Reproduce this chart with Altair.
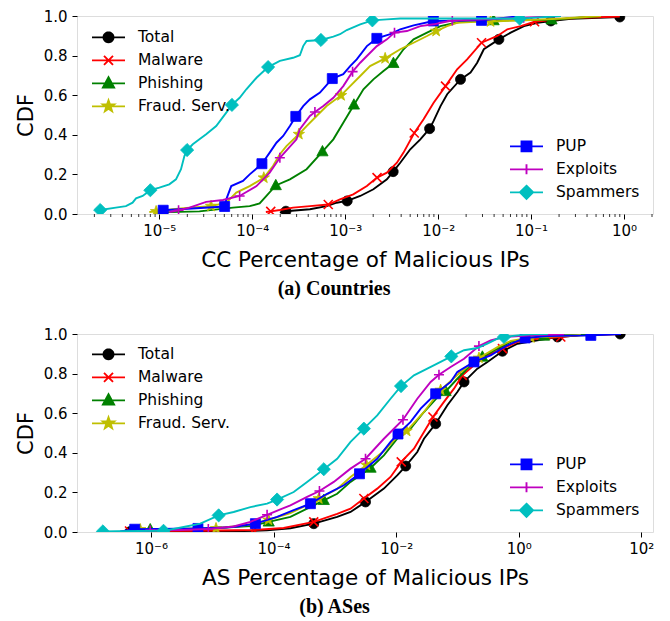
import math
import re
import altair as alt
import pandas as pd

# ---------------- series meta ----------------
SERIES = ["Total", "Malware", "Phishing", "Fraud. Serv.", "PUP", "Exploits", "Spammers"]
COLORS = ["#000000", "#ff0000", "#008000", "#bfbf00", "#0000ff", "#bf00bf", "#00bfbf"]
LEFT_GROUP = SERIES[:4]
RIGHT_GROUP = SERIES[4:]

Y_TICKS = [0.0, 0.2, 0.4, 0.6, 0.8, 1.0]
A_X_TICKS = [1e-5, 1e-4, 1e-3, 1e-2, 1e-1, 1e0]
B_X_TICKS = [1e-6, 1e-4, 1e-2, 1e0, 1e2]
A_X_DOMAIN = [1.3e-6, 2.05]
B_X_DOMAIN = [6.2e-8, 155.0]

# ---------------- panel (a): Countries ----------------
A_TOTAL_X = [1.98e-4, 2.30e-4, 4.17e-4, 6.31e-4, 8.09e-4, 1.05e-3, 1.45e-3, 2.01e-3, 2.81e-3, 3.28e-3, 3.91e-3, 5.01e-3, 6.43e-3, 8.09e-3, 8.94e-3, 1.06e-2, 1.25e-2, 1.74e-2, 2.23e-2, 2.63e-2, 3.10e-2, 4.50e-2, 6.03e-2, 8.38e-2, 0.117, 0.163, 0.268, 0.90]
A_TOTAL_Y = [0.007, 0.014, 0.024, 0.040, 0.057, 0.066, 0.091, 0.125, 0.175, 0.214, 0.259, 0.327, 0.377, 0.431, 0.470, 0.545, 0.605, 0.680, 0.714, 0.764, 0.832, 0.882, 0.916, 0.949, 0.966, 0.975, 0.986, 0.995]
A_TOTAL_MX = [2.30e-4, 1.05e-3, 3.28e-3, 8.09e-3, 1.74e-2, 4.50e-2, 0.163, 0.90]
A_TOTAL_MY = [0.014, 0.066, 0.214, 0.431, 0.680, 0.882, 0.975, 0.995]

A_MAL_X = [1.40e-4, 1.58e-4, 1.98e-4, 2.75e-4, 4.17e-4, 6.57e-4, 8.79e-4, 1.22e-3, 1.71e-3, 2.20e-3, 2.81e-3, 3.60e-3, 4.24e-3, 5.53e-3, 6.97e-3, 8.94e-3, 1.20e-2, 1.60e-2, 2.05e-2, 2.93e-2, 4.33e-2, 5.55e-2, 7.73e-2, 0.109, 0.192, 0.343, 0.90]
A_MAL_Y = [0.010, 0.013, 0.020, 0.032, 0.040, 0.048, 0.074, 0.099, 0.141, 0.184, 0.209, 0.259, 0.310, 0.409, 0.478, 0.562, 0.646, 0.731, 0.781, 0.865, 0.899, 0.933, 0.949, 0.971, 0.983, 0.991, 0.997]
A_MAL_MX = [1.58e-4, 6.57e-4, 2.20e-3, 5.53e-3, 1.20e-2, 2.93e-2, 0.109]
A_MAL_MY = [0.013, 0.048, 0.184, 0.409, 0.646, 0.865, 0.971]

A_PHI_X = [1.0e-5, 2.70e-5, 6.19e-5, 9.38e-5, 1.20e-4, 1.42e-4, 1.79e-4, 2.54e-4, 3.84e-4, 5.69e-4, 7.45e-4, 9.53e-4, 1.24e-3, 1.57e-3, 2.01e-3, 2.58e-3, 3.30e-3, 4.24e-3, 5.44e-3, 7.59e-3, 1.06e-2, 1.88e-2, 3.95e-2, 0.166, 0.565]
A_PHI_Y = [0.008, 0.013, 0.032, 0.040, 0.053, 0.091, 0.144, 0.175, 0.226, 0.315, 0.377, 0.461, 0.551, 0.630, 0.680, 0.722, 0.761, 0.832, 0.882, 0.916, 0.949, 0.975, 0.977, 0.981, 1.0]
A_PHI_MX = [1.79e-4, 5.69e-4, 1.24e-3, 3.30e-3, 3.95e-2, 0.166]
A_PHI_MY = [0.144, 0.315, 0.551, 0.761, 0.977, 0.981]

A_FRA_X = [7.80e-6, 9.23e-6, 1.39e-5, 2.11e-5, 3.60e-5, 5.25e-5, 6.73e-5, 9.38e-5, 1.33e-4, 1.67e-4, 1.98e-4, 2.33e-4, 3.17e-4, 3.84e-4, 4.92e-4, 6.31e-4, 9.02e-4, 1.13e-3, 1.45e-3, 1.85e-3, 2.69e-3, 3.91e-3, 5.44e-3, 7.59e-3, 9.51e-3, 1.25e-2, 1.60e-2, 2.23e-2, 3.66e-2, 0.099, 0.192, 0.565]
A_FRA_Y = [0.010, 0.013, 0.024, 0.032, 0.040, 0.057, 0.108, 0.141, 0.183, 0.242, 0.302, 0.343, 0.403, 0.444, 0.495, 0.545, 0.599, 0.646, 0.697, 0.747, 0.786, 0.832, 0.865, 0.899, 0.924, 0.949, 0.966, 0.970, 0.972, 0.980, 0.986, 1.0]
A_FRA_MX = [9.23e-6, 3.60e-5, 1.33e-4, 3.17e-4, 9.02e-4, 2.69e-3, 9.51e-3, 3.66e-2]
A_FRA_MY = [0.013, 0.040, 0.183, 0.403, 0.599, 0.786, 0.924, 0.972]

A_PUP_X = [1.10e-5, 5.04e-5, 5.25e-5, 5.94e-5, 7.94e-5, 9.38e-5, 1.27e-4, 1.54e-4, 1.82e-4, 2.15e-4, 2.54e-4, 2.94e-4, 3.53e-4, 4.17e-4, 5.35e-4, 7.26e-4, 9.53e-4, 1.13e-3, 1.33e-3, 1.71e-3, 2.19e-3, 3.05e-3, 3.91e-3, 5.44e-3, 8.87e-3, 2.93e-2, 7.73e-2]
A_PUP_Y = [0.019, 0.038, 0.074, 0.141, 0.167, 0.200, 0.254, 0.310, 0.360, 0.394, 0.444, 0.493, 0.545, 0.579, 0.613, 0.684, 0.706, 0.747, 0.781, 0.848, 0.887, 0.908, 0.933, 0.953, 0.975, 0.978, 1.0]
A_PUP_MX = [1.10e-5, 5.04e-5, 1.27e-4, 2.94e-4, 7.26e-4, 2.19e-3, 8.87e-3, 2.93e-2]
A_PUP_MY = [0.019, 0.038, 0.254, 0.493, 0.684, 0.887, 0.975, 0.978]

A_EXP_X = [1.28e-5, 1.61e-5, 2.11e-5, 3.19e-5, 4.83e-5, 7.31e-5, 1.11e-4, 1.54e-4, 1.98e-4, 2.99e-4, 3.25e-4, 4.17e-4, 4.72e-4, 5.81e-4, 7.45e-4, 9.53e-4, 1.20e-3, 1.45e-3, 1.71e-3, 2.19e-3, 2.81e-3, 3.39e-3, 4.61e-3, 6.43e-3, 8.94e-3, 1.25e-2, 1.42e-2, 8.32e-2, 0.209]
A_EXP_Y = [0.010, 0.019, 0.032, 0.061, 0.071, 0.091, 0.141, 0.209, 0.284, 0.377, 0.428, 0.495, 0.515, 0.545, 0.587, 0.646, 0.719, 0.764, 0.798, 0.848, 0.882, 0.916, 0.924, 0.949, 0.958, 0.972, 0.977, 0.991, 1.0]
A_EXP_MX = [1.61e-5, 7.31e-5, 1.98e-4, 4.72e-4, 1.20e-3, 3.39e-3, 1.42e-2, 8.32e-2]
A_EXP_MY = [0.019, 0.091, 0.284, 0.515, 0.719, 0.916, 0.977, 0.991]

A_SPA_X = [2.31e-6, 3.40e-6, 4.37e-6, 5.15e-6, 5.61e-6, 6.61e-6, 8.0e-6, 1.0e-5, 1.28e-5, 1.51e-5, 1.71e-5, 1.86e-5, 1.99e-5, 2.29e-5, 2.70e-5, 3.19e-5, 4.09e-5, 5.25e-5, 6.04e-5, 7.31e-5, 8.63e-5, 1.11e-4, 1.48e-4, 1.98e-4, 2.75e-4, 3.25e-4, 3.53e-4, 3.84e-4, 5.48e-4, 7.45e-4, 8.79e-4, 1.04e-3, 1.45e-3, 1.96e-3, 2.81e-3, 3.91e-3, 7.53e-2, 0.209]
A_SPA_Y = [0.020, 0.032, 0.040, 0.057, 0.079, 0.091, 0.120, 0.133, 0.150, 0.175, 0.226, 0.293, 0.323, 0.352, 0.377, 0.403, 0.444, 0.512, 0.551, 0.587, 0.630, 0.688, 0.742, 0.773, 0.789, 0.802, 0.848, 0.874, 0.879, 0.896, 0.908, 0.929, 0.958, 0.978, 0.983, 0.987, 0.987, 1.0]
A_SPA_MX = [2.31e-6, 8.0e-6, 1.99e-5, 6.04e-5, 1.48e-4, 5.48e-4, 1.96e-3, 7.53e-2]
A_SPA_MY = [0.020, 0.120, 0.323, 0.551, 0.742, 0.879, 0.978, 0.987]

# ---------------- panel (b): ASes ----------------
B_TOTAL_X = [4.57e-7, 1.97e-5, 7.83e-5, 1.88e-4, 4.52e-4, 1.09e-3, 1.80e-3, 3.16e-3, 6.30e-3, 1.04e-2, 1.43e-2, 2.21e-2, 2.84e-2, 4.41e-2, 6.84e-2, 9.95e-2, 0.128, 0.211, 0.308, 0.542, 0.953, 2.02, 4.29, 10.3, 45.2]
B_TOTAL_Y = [0.002, 0.003, 0.008, 0.019, 0.042, 0.076, 0.101, 0.152, 0.219, 0.286, 0.333, 0.404, 0.471, 0.547, 0.640, 0.707, 0.758, 0.825, 0.859, 0.913, 0.951, 0.968, 0.985, 0.993, 1.0]
B_TOTAL_MX = [4.57e-7, 4.52e-4, 3.16e-3, 1.43e-2, 4.41e-2, 0.128, 0.542, 4.29, 45.2]
B_TOTAL_MY = [0.002, 0.042, 0.152, 0.333, 0.547, 0.758, 0.913, 0.985, 1.0]

B_MAL_X = [4.46e-7, 6.37e-6, 4.73e-5, 1.46e-4, 4.52e-4, 1.09e-3, 1.80e-3, 2.97e-3, 4.91e-3, 8.09e-3, 1.21e-2, 1.95e-2, 2.84e-2, 3.98e-2, 6.02e-2, 8.77e-2, 0.120, 0.186, 0.308, 0.542, 0.953, 2.02, 4.85, 10.3, 46.4]
B_MAL_Y = [0.005, 0.006, 0.010, 0.020, 0.051, 0.092, 0.118, 0.169, 0.219, 0.278, 0.354, 0.421, 0.505, 0.581, 0.657, 0.724, 0.791, 0.842, 0.892, 0.926, 0.960, 0.976, 0.985, 0.996, 1.0]
B_MAL_MX = [4.46e-7, 4.73e-5, 4.52e-4, 2.97e-3, 1.21e-2, 3.98e-2, 0.120, 0.542, 4.85]
B_MAL_MY = [0.005, 0.010, 0.051, 0.169, 0.354, 0.581, 0.791, 0.926, 0.985]

B_PHI_X = [9.70e-7, 1.19e-5, 4.18e-5, 8.32e-5, 1.88e-4, 3.52e-4, 6.59e-4, 1.09e-3, 1.80e-3, 3.82e-3, 6.30e-3, 1.04e-2, 1.72e-2, 2.84e-2, 4.70e-2, 6.41e-2, 9.95e-2, 0.164, 0.255, 0.449, 0.740, 1.57, 2.59, 21.9]
B_PHI_Y = [0.012, 0.020, 0.030, 0.051, 0.076, 0.118, 0.160, 0.193, 0.253, 0.323, 0.387, 0.471, 0.522, 0.606, 0.680, 0.710, 0.774, 0.842, 0.884, 0.926, 0.960, 0.980, 0.990, 1.0]
B_PHI_MX = [9.70e-7, 8.32e-5, 6.59e-4, 3.82e-3, 6.41e-2, 0.255, 2.59]
B_PHI_MY = [0.012, 0.051, 0.160, 0.323, 0.710, 0.884, 0.990]

B_FRA_X = [3.8e-7, 6.67e-7, 1.15e-5, 4.18e-5, 8.22e-5, 1.88e-4, 3.52e-4, 5.46e-4, 1.09e-3, 1.80e-3, 3.28e-3, 6.30e-3, 1.04e-2, 1.48e-2, 2.84e-2, 5.31e-2, 9.95e-2, 0.164, 0.224, 0.449, 0.740, 1.57, 10.3]
B_FRA_Y = [0.003, 0.013, 0.018, 0.038, 0.061, 0.096, 0.136, 0.169, 0.217, 0.278, 0.338, 0.409, 0.480, 0.510, 0.606, 0.717, 0.793, 0.848, 0.879, 0.934, 0.965, 0.982, 0.995]
B_FRA_MX = [6.67e-7, 1.15e-5, 8.22e-5, 5.46e-4, 3.28e-3, 1.48e-2, 5.31e-2, 0.224, 1.57]
B_FRA_MY = [0.013, 0.018, 0.061, 0.169, 0.338, 0.510, 0.717, 0.879, 0.982]

B_PUP_X = [3.14e-7, 5.42e-7, 5.83e-6, 1.63e-5, 2.53e-5, 5.05e-5, 1.14e-4, 2.13e-4, 3.99e-4, 7.48e-4, 1.40e-3, 2.52e-3, 4.91e-3, 8.09e-3, 1.07e-2, 1.72e-2, 2.51e-2, 4.41e-2, 7.74e-2, 9.95e-2, 0.186, 0.348, 0.653, 1.27, 2.94, 15.0, 46.4]
B_PUP_Y = [0.003, 0.014, 0.018, 0.023, 0.028, 0.042, 0.076, 0.110, 0.143, 0.193, 0.236, 0.294, 0.370, 0.455, 0.495, 0.556, 0.623, 0.698, 0.758, 0.808, 0.859, 0.892, 0.943, 0.980, 0.990, 0.993, 1.0]
B_PUP_MX = [5.42e-7, 5.83e-6, 5.05e-5, 3.99e-4, 2.52e-3, 1.07e-2, 4.41e-2, 0.186, 1.27, 15.0]
B_PUP_MY = [0.014, 0.018, 0.042, 0.143, 0.294, 0.495, 0.698, 0.859, 0.980, 0.993]

B_EXP_X = [6.67e-7, 9.70e-7, 3.0e-6, 8.61e-6, 2.23e-5, 4.18e-5, 7.83e-5, 1.88e-4, 3.52e-4, 5.60e-4, 9.59e-4, 1.80e-3, 3.16e-3, 6.30e-3, 1.29e-2, 2.21e-2, 3.65e-2, 4.99e-2, 7.74e-2, 0.128, 0.224, 0.348, 0.575, 1.57, 5.50]
B_EXP_Y = [0.002, 0.008, 0.010, 0.015, 0.028, 0.051, 0.087, 0.135, 0.177, 0.207, 0.253, 0.320, 0.370, 0.471, 0.567, 0.673, 0.758, 0.794, 0.833, 0.875, 0.939, 0.968, 0.985, 0.993, 0.998]
B_EXP_MX = [9.70e-7, 8.61e-6, 7.83e-5, 5.60e-4, 3.16e-3, 1.29e-2, 4.99e-2, 0.224]
B_EXP_MY = [0.008, 0.015, 0.087, 0.207, 0.370, 0.567, 0.794, 0.939]

B_SPA_X = [1.64e-7, 2.77e-7, 1.60e-6, 3.40e-6, 6.37e-6, 1.27e-5, 2.23e-5, 4.18e-5, 7.83e-5, 1.14e-4, 2.13e-4, 3.52e-4, 6.59e-4, 1.09e-3, 1.80e-3, 2.97e-3, 4.91e-3, 8.09e-3, 1.20e-2, 1.95e-2, 3.22e-2, 5.31e-2, 7.94e-2, 0.128, 0.211, 0.308, 0.449, 0.575, 0.953, 1.57, 3.0]
B_SPA_Y = [0.003, 0.004, 0.006, 0.025, 0.042, 0.084, 0.101, 0.126, 0.143, 0.164, 0.202, 0.253, 0.317, 0.370, 0.455, 0.522, 0.589, 0.673, 0.737, 0.791, 0.825, 0.859, 0.887, 0.918, 0.929, 0.951, 0.976, 0.985, 0.993, 0.998, 1.0]
B_SPA_MX = [1.64e-7, 1.60e-6, 1.27e-5, 1.14e-4, 6.59e-4, 2.97e-3, 1.20e-2, 7.94e-2, 0.575]
B_SPA_MY = [0.003, 0.006, 0.084, 0.164, 0.317, 0.522, 0.737, 0.887, 0.985]

PANEL_A = {
    "Total": (A_TOTAL_X, A_TOTAL_Y, A_TOTAL_MX, A_TOTAL_MY),
    "Malware": (A_MAL_X, A_MAL_Y, A_MAL_MX, A_MAL_MY),
    "Phishing": (A_PHI_X, A_PHI_Y, A_PHI_MX, A_PHI_MY),
    "Fraud. Serv.": (A_FRA_X, A_FRA_Y, A_FRA_MX, A_FRA_MY),
    "PUP": (A_PUP_X, A_PUP_Y, A_PUP_MX, A_PUP_MY),
    "Exploits": (A_EXP_X, A_EXP_Y, A_EXP_MX, A_EXP_MY),
    "Spammers": (A_SPA_X, A_SPA_Y, A_SPA_MX, A_SPA_MY),
}
PANEL_B = {
    "Total": (B_TOTAL_X, B_TOTAL_Y, B_TOTAL_MX, B_TOTAL_MY),
    "Malware": (B_MAL_X, B_MAL_Y, B_MAL_MX, B_MAL_MY),
    "Phishing": (B_PHI_X, B_PHI_Y, B_PHI_MX, B_PHI_MY),
    "Fraud. Serv.": (B_FRA_X, B_FRA_Y, B_FRA_MX, B_FRA_MY),
    "PUP": (B_PUP_X, B_PUP_Y, B_PUP_MX, B_PUP_MY),
    "Exploits": (B_EXP_X, B_EXP_Y, B_EXP_MX, B_EXP_MY),
    "Spammers": (B_SPA_X, B_SPA_Y, B_SPA_MX, B_SPA_MY),
}

# ---------------- marker geometry (styles) ----------------
def poly(pts):
    return "M" + "L".join(f"{x:.3f},{y:.3f}" for x, y in pts) + "Z"

CIRCLE = poly([(math.cos(2 * math.pi * k / 24), math.sin(2 * math.pi * k / 24)) for k in range(24)])
SQUARE = "M-1,-1L1,-1L1,1L-1,1Z"
TRIANGLE = "M0,-1.1L1,0.75L-1,0.75Z"
DIAMOND = "M0,-1L1,0L0,1L-1,0Z"
STAR = poly([((1.0 if k % 2 == 0 else 0.4) * math.cos(-math.pi / 2 + k * math.pi / 5),
              (1.0 if k % 2 == 0 else 0.4) * math.sin(-math.pi / 2 + k * math.pi / 5)) for k in range(10)])
XMARK = "M-1,-1L1,1M-1,1L1,-1"
PLUS = "M-1,0L1,0M0,-1L0,1"

# shape, marker half-size (px), filled
MARKERS = {
    "Total": (CIRCLE, 5.0, True),
    "Malware": (XMARK, 4.5, False),
    "Phishing": (TRIANGLE, 5.6, True),
    "Fraud. Serv.": (STAR, 6.0, True),
    "PUP": (SQUARE, 5.0, True),
    "Exploits": (PLUS, 5.0, False),
    "Spammers": (DIAMOND, 6.6, True),
}
COLOR_OF = dict(zip(SERIES, COLORS))

LEG_HALF = 16.5  # half length of legend line (px)


def scale_path(path, k):
    return re.sub(r"-?\d+(?:\.\d+)?", lambda m: f"{float(m.group()) * k:.3f}", path)


def legend_path(name):
    shape, half, _ = MARKERS[name]
    return "M-1,0L1,0" + scale_path(shape, half / LEG_HALF)


SUP = "''+round(log(datum.value)/LN10)"
for a, b in [("-", "⁻"), ("0", "⁰"), ("1", "¹"), ("2", "²"), ("3", "³"), ("4", "⁴"),
             ("5", "⁵"), ("6", "⁶"), ("7", "⁷")]:
    SUP = f"replace({SUP},'{a}','{b}')"
LABEL_EXPR = "'10' + " + SUP

W, H = 576, 198
FONT = "DejaVu Sans"


def panel(data, xdomain, xticks, minor, xtitle, caption, legA, legB):
    xs = alt.Scale(type="log", domain=xdomain, nice=False)
    ys = alt.Scale(domain=[0, 1], nice=False, zero=False)
    xaxis = alt.Axis(values=xticks, labelExpr=LABEL_EXPR, grid=False, domain=False,
                     tickSize=5, tickColor="black", labelColor="black", labelFontSize=15,
                     labelFont=FONT, titleFont=FONT, titleFontSize=21.5, titleFontWeight="normal",
                     titleColor="black", titlePadding=11, labelPadding=4, labelFlush=False)
    yaxis = alt.Axis(values=Y_TICKS, format=".1f", grid=False, domain=False,
                     tickSize=5, tickColor="black", labelColor="black", labelFontSize=15,
                     labelFont=FONT, titleFont=FONT, titleFontSize=21, titleFontWeight="normal",
                     titleColor="black", titlePadding=7, labelPadding=5)
    X = lambda f: alt.X(f, scale=xs, axis=xaxis, title=xtitle)
    Y = lambda f: alt.Y(f, scale=ys, axis=yaxis, title="CDF")

    layers = []
    for name in SERIES:
        lx, ly, mx, my = data[name]
        c = COLOR_OF[name]
        ldf = pd.DataFrame({"x": lx, "y": ly})
        mdf = pd.DataFrame({"x": mx, "y": my})
        layers.append(alt.Chart(ldf).mark_line(color=c, strokeWidth=1.9, clip=True)
                      .encode(x=X("x:Q"), y=Y("y:Q")))
        shape, half, filled = MARKERS[name]
        size = (2 * half) ** 2
        if filled:
            pm = alt.Chart(mdf).mark_point(shape=shape, size=size, filled=True, fill=c, stroke=c,
                                           strokeWidth=0.8, opacity=1, clip=True)
        else:
            pm = alt.Chart(mdf).mark_point(shape=shape, size=size, filled=False, stroke=c,
                                           strokeWidth=1.6, opacity=1, clip=True)
        layers.append(pm.encode(x=X("x:Q"), y=Y("y:Q")))

    if minor:
        mt = pd.DataFrame({"m": minor})
        layers.append(alt.Chart(mt).mark_rule(color="black", strokeWidth=0.8)
                      .encode(x=X("m:Q"), y=alt.value(H), y2=alt.value(H + 3)))

    for group, (lx, ly) in ((LEFT_GROUP, legA), (RIGHT_GROUP, legB)):
        gcols = [COLOR_OF[n] for n in group]
        gpaths = [legend_path(n) for n in group]
        leg = alt.Legend(title=None, orient="none", legendX=lx, legendY=ly, padding=0,
                         clipHeight=22.7, rowPadding=0, labelOffset=12, labelFontSize=15.5,
                         labelFont=FONT, labelColor="black", symbolSize=1089,
                         symbolStrokeWidth=1.9, labelLimit=300)
        ld = pd.DataFrame({"series": group})
        layers.append(
            alt.Chart(ld).mark_point(filled=True, size=1089, opacity=1, strokeWidth=1.9)
            .encode(
                fill=alt.Fill("series:N", scale=alt.Scale(domain=group, range=gcols), legend=leg),
                stroke=alt.Stroke("series:N", scale=alt.Scale(domain=group, range=gcols), legend=leg),
                shape=alt.Shape("series:N", scale=alt.Scale(domain=group, range=gpaths), legend=leg),
            ).transform_filter("false")
        )

    return alt.layer(*layers).resolve_scale(
        fill="independent", stroke="independent", shape="independent"
    ).properties(
        width=W, height=H,
        title=alt.TitleParams(caption, orient="bottom", anchor="middle", frame="bounds",
                              font="Liberation Serif", fontSize=20, fontWeight="bold",
                              color="black", offset=8),
    )


A_MINOR = [m * 10.0 ** k for k in range(-6, 1) for m in range(2, 10)
           if A_X_DOMAIN[0] <= m * 10.0 ** k <= A_X_DOMAIN[1]]

pa = panel(PANEL_A, A_X_DOMAIN, A_X_TICKS, A_MINOR, "CC Percentage of Malicious IPs",
           "(a) Countries", (14, 10), (432, 119))
pb = panel(PANEL_B, B_X_DOMAIN, B_X_TICKS, None, "AS Percentage of Malicious IPs",
           "(b) ASes", (14, 9), (432, 119))

chart = alt.vconcat(pa, pb, spacing=27).properties(
    padding={"left": 6, "top": 0, "right": 5, "bottom": 0}
).configure_view(stroke="black", strokeWidth=1.2).configure(font=FONT)

chart.save("out.html", embed_options={"renderer": "svg", "actions": False})
